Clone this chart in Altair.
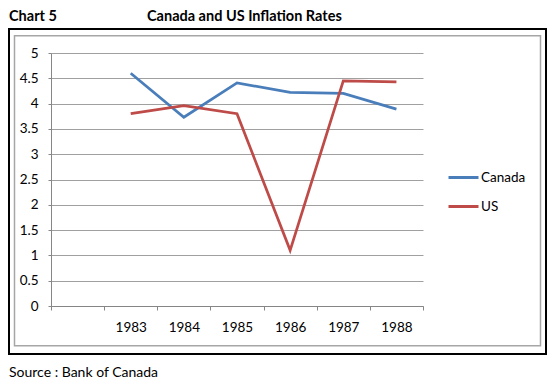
import altair as alt
import pandas as pd

years = ["1983", "1984", "1985", "1986", "1987", "1988"]
categories = [" "] + years
canada = [4.60, 3.73, 4.41, 4.22, 4.20, 3.89]
us = [3.80, 3.96, 3.80, 1.10, 4.45, 4.43]
series = ["Canada", "US"]
colors = ["#4a7ebb", "#be4b48"]
y_ticks = [0, 0.5, 1, 1.5, 2, 2.5, 3, 3.5, 4, 4.5, 5]

rows = []
for y, c, u in zip(years, canada, us):
    rows.append({"year": y, "series": "Canada", "value": c})
    rows.append({"year": y, "series": "US", "value": u})
df = pd.DataFrame(rows)

FONT = "Lato"
W, H = 372, 253

one = alt.Data(values=[{}])

outer = alt.Chart(one).mark_rect(fill="transparent", stroke="#000000", strokeWidth=2).encode(
    x=alt.value(-42), x2=alt.value(495), y=alt.value(-24), y2=alt.value(301)
)
inner = alt.Chart(one).mark_rect(fill="transparent", stroke="#a6a6a6", strokeWidth=1.5).encode(
    x=alt.value(-36.5), x2=alt.value(489.5), y=alt.value(-17.3), y2=alt.value(292.7)
)

lines = alt.Chart(df).mark_line(strokeWidth=2.75).encode(
    x=alt.X("year:N", scale=alt.Scale(type="band", domain=categories, paddingInner=0, paddingOuter=0),
            axis=alt.Axis(title=None, labelAngle=0, tickBand="extent", grid=False, tickSize=4,
                          domainColor="#868686", tickColor="#868686", labelFont=FONT,
                          labelFontSize=13.5, labelColor="#000000", labelPadding=10)),
    y=alt.Y("value:Q", scale=alt.Scale(domain=[0, 5], nice=False, zero=True),
            axis=alt.Axis(title=None, values=y_ticks, format="~g", grid=True, gridColor="#a0a0a0",
                          tickSize=3, domainColor="#868686", tickColor="#868686", labelFont=FONT,
                          labelFontSize=13.5, labelColor="#000000", labelPadding=10)),
    color=alt.Color("series:N", scale=alt.Scale(domain=series, range=colors),
                    legend=alt.Legend(title=None, orient="none", legendX=396, legendY=108,
                                      symbolType="stroke", symbolSize=900, symbolStrokeWidth=3,
                                      labelFont=FONT, labelFontSize=13.5, labelColor="#000000",
                                      labelOffset=1, rowPadding=6)),
)

chart_label = alt.Chart(alt.Data(values=[{"t": "Chart 5"}])).mark_text(
    align="left", baseline="alphabetic", font=FONT, fontSize=14.5, fontWeight="bold", color="#000000"
).encode(text="t:N", x=alt.value(-42), y=alt.value(-32))

title = alt.Chart(alt.Data(values=[{"t": "Canada and US Inflation Rates"}])).mark_text(
    align="left", baseline="alphabetic", font=FONT, fontSize=14.5, fontWeight="bold", color="#000000"
).encode(text="t:N", x=alt.value(96), y=alt.value(-32))

source = alt.Chart(alt.Data(values=[{"t": "Source : Bank of Canada"}])).mark_text(
    align="left", baseline="alphabetic", font=FONT, fontSize=14, color="#000000"
).encode(text="t:N", x=alt.value(-42), y=alt.value(324))

chart = alt.layer(outer, inner, lines, chart_label, title, source).properties(
    width=W, height=H,
    autosize=alt.AutoSizeParams(type="none"),
    padding={"left": 43, "top": 45, "right": 124, "bottom": 74},
).configure_view(strokeWidth=0)

chart.save("out.html", embed_options={"renderer": "svg", "actions": False})
